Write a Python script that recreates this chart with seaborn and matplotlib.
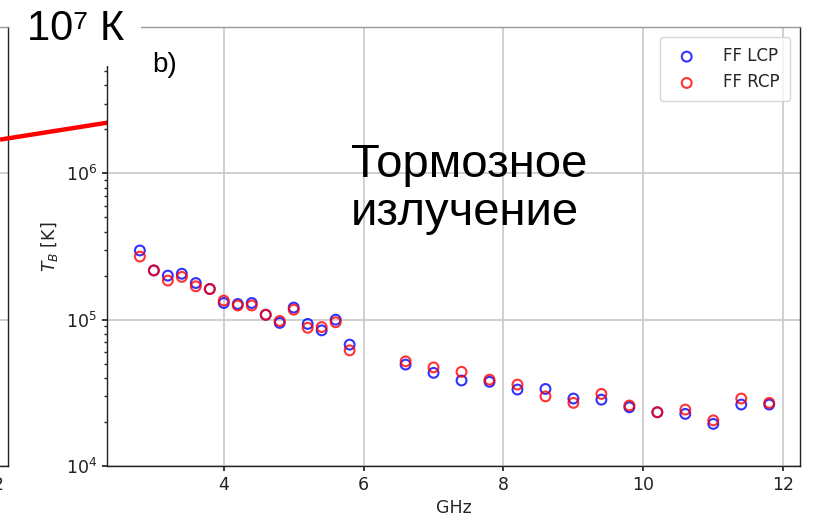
import matplotlib
matplotlib.use("Agg")
import matplotlib.pyplot as plt
import seaborn as sns
import pandas as pd

# brightness temperature spectra
freq = [2.8, 3.0, 3.2, 3.4, 3.6, 3.8, 4.0, 4.2, 4.4, 4.6, 4.8, 5.0, 5.2, 5.4, 5.6, 5.8,
        6.6, 7.0, 7.4, 7.8, 8.2, 8.6, 9.0, 9.4, 9.8, 10.2, 10.6, 11.0, 11.4, 11.8]
lcp = [2.97e5, 2.17e5, 2.00e5, 2.06e5, 1.78e5, 1.62e5, 1.30e5, 1.28e5, 1.30e5, 1.08e5,
       9.5e4, 1.21e5, 9.35e4, 8.45e4, 1.0e5, 6.75e4,
       4.93e4, 4.33e4, 3.84e4, 3.76e4, 3.33e4, 3.36e4, 2.89e4, 2.84e4, 2.52e4, 2.33e4,
       2.27e4, 1.94e4, 2.63e4, 2.63e4]
rcp = [2.70e5, 2.17e5, 1.85e5, 1.96e5, 1.69e5, 1.62e5, 1.35e5, 1.25e5, 1.25e5, 1.08e5,
       9.8e4, 1.17e5, 8.8e4, 8.9e4, 9.6e4, 6.17e4,
       5.19e4, 4.72e4, 4.40e4, 3.89e4, 3.60e4, 2.99e4, 2.70e4, 3.11e4, 2.59e4, 2.33e4,
       2.43e4, 2.05e4, 2.89e4, 2.70e4]
series_names = ['FF LCP', 'FF RCP']
series_colors = ['blue', 'red']

# piece of the neighbouring panel a) that sticks into the crop
left_x = [2.01, 2.55]
left_y = [1.70e6, 2.22e6]

xticks = [4, 6, 8, 10, 12]
ylims = (1e4, 1e7)

df = pd.DataFrame({
    'GHz': freq + freq,
    'TB': lcp + rcp,
    'pol': [series_names[0]] * len(freq) + [series_names[1]] * len(freq),
})

sns.set_theme(style='ticks')
plt.rcParams['font.family'] = ['DejaVu Sans']
plt.rcParams.update({
    'xtick.major.size': 3.5, 'ytick.major.size': 3.5,
    'ytick.minor.size': 2.0, 'axes.edgecolor': '#222222',
    'xtick.color': '#222222', 'ytick.color': '#222222',
    'axes.linewidth': 1.0,
})

fig = plt.figure(figsize=(8.2, 5.25), dpi=100)

# left panel (mostly outside the crop)
ax_l = fig.add_axes([-400 / 820, 59 / 525, 408 / 820, 439 / 525])
ax_l.set_yscale('log')
ax_l.set_ylim(*ylims)
ax_l.set_xlim(0, 2.05)
ax_l.set_xticks([1, 2])
ax_l.tick_params(labelsize=12.5)
ax_l.spines['top'].set_color('#999999')
ax_l.grid(True, axis='y', which='major', color='#c8c8c8', lw=1.2)
ax_l.plot(left_x, left_y, color='red', lw=3.2, clip_on=False, zorder=5,
          solid_capstyle='butt')

# panel b)
ax = fig.add_axes([107 / 820, 59 / 525, 693 / 820, 439 / 525])
for name, col in zip(series_names, series_colors):
    sns.scatterplot(data=df[df['pol'] == name], x='GHz', y='TB', ax=ax,
                    marker='o', s=50, facecolors='none', edgecolors=col,
                    linewidths=1.5, alpha=0.8, label=name, zorder=3)
ax.set_yscale('log')
ax.set_ylim(*ylims)
ax.set_xlim(2.33, 12.24)
ax.set_xticks(xticks)
ax.spines['top'].set_color('#999999')
ax.grid(True, which='major', color='#c8c8c8', lw=1.2)
ax.tick_params(labelsize=12.5)
ax.set_xlabel('GHz', fontsize=12.5)
ax.set_ylabel('$T_B$ [K]', fontsize=12.5)
ax.legend(loc='upper right', fontsize=12, scatterpoints=1, frameon=True,
          edgecolor='#cccccc', framealpha=0.8, borderpad=0.6,
          handletextpad=1.2, labelspacing=0.5, borderaxespad=0.6)

ax.text(0.065, 0.897, 'b)', transform=ax.transAxes, fontsize=20, color='black',
        family=['Liberation Sans', 'DejaVu Sans'], va='baseline', ha='left')
ax.text(0.352, 0.736, 'Тормозное\nизлучение', transform=ax.transAxes,
        fontsize=34, color='black', family=['Liberation Sans', 'DejaVu Sans'],
        va='top', ha='left', linespacing=1.12, zorder=6)

fig.text(0.033, 0.923, '10⁷ К', fontsize=30, color='black',
         family=['Liberation Sans', 'DejaVu Sans'], va='baseline', ha='left',
         bbox=dict(facecolor='white', edgecolor='none', pad=12), zorder=10)

fig.savefig('out.png', dpi=100)
